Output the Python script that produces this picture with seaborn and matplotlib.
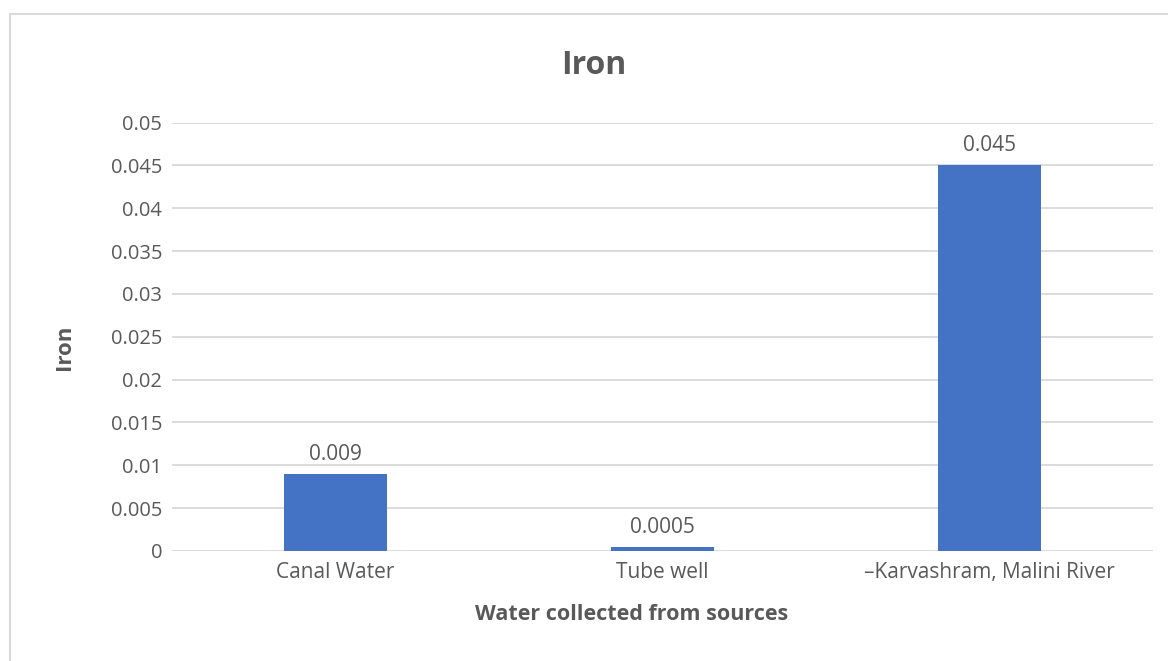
import matplotlib
matplotlib.use("Agg")
import matplotlib.pyplot as plt
from matplotlib.patches import Rectangle
import seaborn as sns
import pandas as pd

# Iron concentration by water source
sources = ["Canal Water", "Tube well", "\u2013Karvashram, Malini River"]
iron = [0.009, 0.0005, 0.045]
value_labels = ["0.009", "0.0005", "0.045"]
y_ticks = [0, 0.005, 0.01, 0.015, 0.02, 0.025, 0.03, 0.035, 0.04, 0.045, 0.05]

TEXT = "#595959"
GRID = "#D9D9D9"
BAR = "#4472C4"

sns.set_theme(style="white")
plt.rcParams["font.family"] = ["Open Sans", "DejaVu Sans"]

df = pd.DataFrame({"source": sources, "iron": iron})

W, H = 1168, 661
fig = plt.figure(figsize=(W / 100, H / 100), dpi=100)
ax = fig.add_axes([172 / W, 1 - 551 / H, (1153 - 172) / W, (551 - 122.5) / H])

# chart frame
fig.patches.append(Rectangle((10 / W, -0.2), 1.2, 1.2 - 14 / H, transform=fig.transFigure,
                             fill=False, edgecolor=GRID, linewidth=1.5, zorder=0))

sns.barplot(data=df, x="source", y="iron", ax=ax, color=BAR, saturation=1,
            width=0.315, linewidth=0, zorder=3)

ax.set_ylim(0, 0.05)
ax.set_yticks(y_ticks)
ax.set_yticklabels([f"{v:g}" for v in y_ticks])
ax.set_xlim(-0.5, len(sources) - 0.5)
ax.yaxis.grid(True, color=GRID, linewidth=1.3, zorder=0)
ax.set_axisbelow(True)
for s in ax.spines.values():
    s.set_visible(False)
ax.tick_params(axis="both", length=0, labelcolor=TEXT)
ax.tick_params(axis="y", pad=7, labelsize=14.5)
ax.tick_params(axis="x", pad=8, labelsize=15)

for i, (v, lab) in enumerate(zip(iron, value_labels)):
    ax.annotate(lab, (i, v), xytext=(0, 6.5), textcoords="offset points",
                ha="center", va="bottom", fontsize=15, color=TEXT)

ax.set_xlabel("Water collected from sources", fontsize=15.5, fontweight="bold", color=TEXT)
ax.xaxis.set_label_coords((632 - 172) / (1153 - 172), (551 - 615) / (551 - 122.5))
ax.xaxis.label.set_va("center")
ax.set_ylabel("Iron", fontsize=16, fontweight="bold", color=TEXT)
ax.yaxis.set_label_coords((65 - 172) / (1153 - 172), (551 - 347) / (551 - 122.5))
ax.yaxis.label.set_va("center")

fig.text(594 / W, 1 - 65 / H, "Iron", ha="center", va="center", fontsize=23,
         fontweight="bold", color=TEXT)

fig.savefig("out.png", dpi=100)
